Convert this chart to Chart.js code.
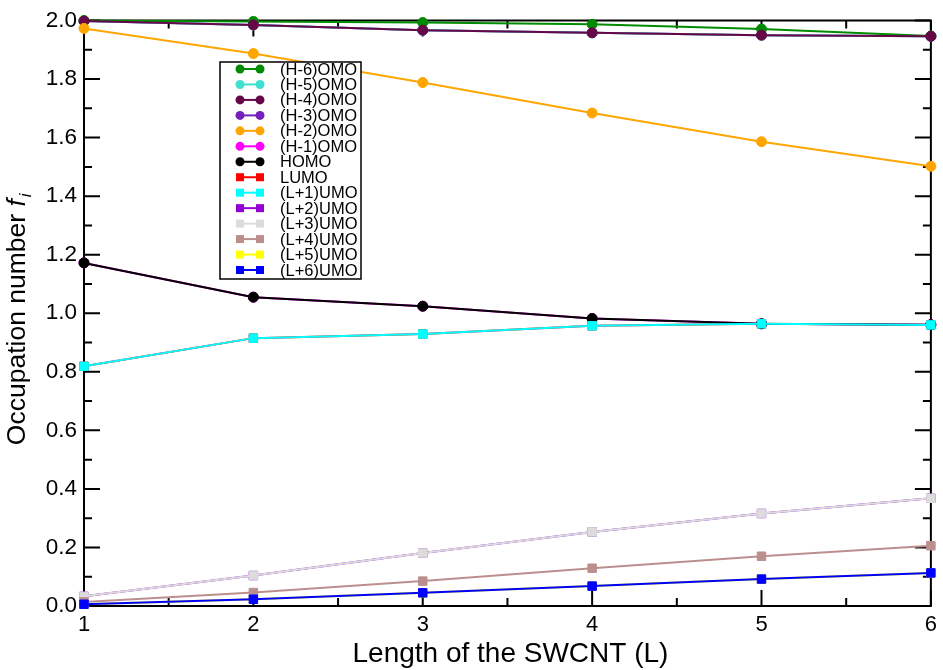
<!DOCTYPE html>
<html>
<head>
<meta charset="utf-8">
<script src="https://cdn.jsdelivr.net/npm/chart.js@4.4.1/dist/chart.umd.min.js"></script>
<style>
    html, body { margin: 0; padding: 0; background: #fff; }
    #occupation-chart { display: block; }
</style>
</head>
<body>
<canvas id="occupation-chart" width="943" height="670"></canvas>
<script>
// chain length L (x axis)
const lengths = [1, 2, 3, 4, 5, 6];

// occupation numbers
const h6 = [2.000, 1.997, 1.993, 1.987, 1.971, 1.947];
const h5 = [1.998, 1.985, 1.967, 1.958, 1.950, 1.946];
const h4 = [1.998, 1.985, 1.967, 1.958, 1.950, 1.946];
const h3 = [1.998, 1.985, 1.967, 1.958, 1.950, 1.946];
const h2 = [1.973, 1.887, 1.788, 1.684, 1.586, 1.502];
const h1 = [1.172, 1.055, 1.024, 0.982, 0.964, 0.961];
const homo = [1.172, 1.055, 1.024, 0.982, 0.964, 0.961];
const lumo = [0.819, 0.915, 0.929, 0.957, 0.964, 0.960];
const l1 = [0.819, 0.915, 0.929, 0.957, 0.964, 0.960];
const l2 = [0.033, 0.104, 0.181, 0.253, 0.316, 0.368];
const l3 = [0.033, 0.104, 0.181, 0.253, 0.316, 0.368];
const l4 = [0.014, 0.046, 0.085, 0.129, 0.170, 0.206];
const l5 = [0.006, 0.023, 0.045, 0.068, 0.092, 0.113];
const l6 = [0.006, 0.023, 0.045, 0.068, 0.092, 0.113];

const seriesNames = ['(H-6)OMO', '(H-5)OMO', '(H-4)OMO', '(H-3)OMO', '(H-2)OMO', '(H-1)OMO', 'HOMO',
    'LUMO', '(L+1)UMO', '(L+2)UMO', '(L+3)UMO', '(L+4)UMO', '(L+5)UMO', '(L+6)UMO'];
const seriesValues = [h6, h5, h4, h3, h2, h1, homo, lumo, l1, l2, l3, l4, l5, l6];
const seriesColors = ['#008b00', '#40e0d0', '#670748', '#7221bc', '#ffa500', '#ff00ff', '#000000',
    '#ff0000', '#00ffff', '#9400d3', '#dcdcdc', '#bc8f8f', '#ffff00', '#0000ff'];
// sets that sit underneath another one in the original picture
const coveredSets = ['(H-5)OMO', '(H-3)OMO', '(H-1)OMO', 'LUMO', '(L+2)UMO', '(L+5)UMO'];

const yTicks = [0, 0.2, 0.4, 0.6, 0.8, 1.0, 1.2, 1.4, 1.6, 1.8, 2.0];
const xTicks = [1, 2, 3, 4, 5, 6];

const FONT = '"Liberation Sans", Arial, Helvetica, sans-serif';

const datasets = seriesNames.map((name, i) => {
    const isCircle = name.indexOf('OMO') !== -1;
    return {
        label: name,
        data: lengths.map((x, k) => ({x: x, y: seriesValues[i][k]})),
        borderColor: seriesColors[i],
        backgroundColor: seriesColors[i],
        pointBackgroundColor: seriesColors[i],
        pointBorderColor: seriesColors[i],
        pointBorderWidth: 1,
        pointStyle: isCircle ? 'circle' : 'rect',
        pointRadius: isCircle ? 5 : 6,
        borderWidth: 2,
        clip: false,
        // higher order is drawn first; covered sets go to the bottom
        order: coveredSets.includes(name) ? 100 : seriesNames.length - i,
    }
})

// axis frame + inward ticks on all four sides
const frameTicks = {
    id: 'frameTicks',
    beforeDatasetsDraw(chart) {
        const ctx = chart.ctx;
        const {left, right, top, bottom} = chart.chartArea;
        const xs = chart.scales.x;
        const ys = chart.scales.y;
        ctx.save();
        ctx.strokeStyle = '#000';
        ctx.lineWidth = 2;
        ctx.beginPath();
        for (let k = 0; k <= 10; k++) {
            const x = xs.getPixelForValue(1 + k * 0.5);
            const len = k % 2 === 0 ? 16 : 8;
            ctx.moveTo(x, bottom); ctx.lineTo(x, bottom - len);
            ctx.moveTo(x, top); ctx.lineTo(x, top + len);
        }
        for (let k = 0; k <= 20; k++) {
            const y = ys.getPixelForValue(k * 0.1);
            const len = k % 2 === 0 ? 16 : 8;
            ctx.moveTo(left, y); ctx.lineTo(left + len, y);
            ctx.moveTo(right, y); ctx.lineTo(right - len, y);
        }
        ctx.stroke();
        ctx.strokeRect(left, top, right - left, bottom - top);
        ctx.restore();
    },
    afterDraw(chart) {
        const ctx = chart.ctx;
        const {left, right, top, bottom} = chart.chartArea;
        ctx.save();
        ctx.fillStyle = '#000';
        ctx.font = '28px ' + FONT;
        ctx.textAlign = 'center';
        ctx.textBaseline = 'alphabetic';
        ctx.fillText('Length of the SWCNT (L)', (left + right) / 2 + 3, 662);

        // y title with italic f and subscript i
        const main = 'Occupation number ';
        ctx.translate(25, (top + bottom) / 2 + 6);
        ctx.rotate(-Math.PI / 2);
        ctx.textAlign = 'left';
        ctx.font = '26.5px ' + FONT;
        const w1 = ctx.measureText(main).width;
        ctx.font = 'italic 26.5px ' + FONT;
        const w2 = ctx.measureText('f').width;
        ctx.font = 'italic 17px ' + FONT;
        const w3 = ctx.measureText('i').width;
        let x0 = -(w1 + w2 + w3 + 2) / 2;
        ctx.font = '26.5px ' + FONT;
        ctx.fillText(main, x0, 0);
        ctx.font = 'italic 26.5px ' + FONT;
        ctx.fillText('f', x0 + w1, 0);
        ctx.font = 'italic 17px ' + FONT;
        ctx.fillText('i', x0 + w1 + w2 + 2, 6);
        ctx.restore();
    }
}

// boxed legend inside the plot
const boxLegend = {
    id: 'boxLegend',
    afterDatasetsDraw(chart) {
        const ctx = chart.ctx;
        const bx = 220, by = 62, bw = 141, bh = 217;
        ctx.save();
        ctx.fillStyle = '#fff';
        ctx.fillRect(bx, by, bw, bh);
        ctx.strokeStyle = '#000';
        ctx.lineWidth = 1.5;
        ctx.strokeRect(bx, by, bw, bh);
        const step = (270 - 69) / 13;
        ctx.font = '16.5px ' + FONT;
        ctx.textBaseline = 'middle';
        seriesNames.forEach((name, i) => {
            const y = 69 + i * step;
            const color = seriesColors[i];
            ctx.strokeStyle = color;
            ctx.fillStyle = color;
            ctx.lineWidth = 2;
            ctx.beginPath();
            ctx.moveTo(240, y); ctx.lineTo(260, y);
            ctx.stroke();
            [240, 260].forEach(px => {
                if (name.indexOf('OMO') !== -1) {
                    ctx.beginPath();
                    ctx.arc(px, y, 4.5, 0, Math.PI * 2);
                    ctx.fill();
                } else {
                    ctx.fillRect(px - 4, y - 4, 8, 8);
                }
            })
            ctx.fillStyle = '#000';
            ctx.fillText(name, 280, y + 1);
        })
        ctx.restore();
    }
}

const chart = new Chart(document.getElementById('occupation-chart'), {
    type: 'line',
    data: {datasets: datasets},
    plugins: [frameTicks, boxLegend],
    options: {
        responsive: false,
        animation: false,
        layout: {padding: {top: 11, right: 9, left: 0, bottom: 0}},
        plugins: {
            legend: {display: false},
            tooltip: {enabled: false},
        },
        scales: {
            x: {
                type: 'linear',
                min: 1,
                max: 6,
                afterBuildTicks: s => { s.ticks = xTicks.map(v => ({value: v})) },
                ticks: {
                    color: '#000',
                    font: {family: FONT, size: 22},
                    padding: 6,
                    maxRotation: 0,
                    callback: v => String(v),
                },
                grid: {display: false, drawTicks: false},
                border: {display: false},
                afterFit: s => { s.height = 64 },
            },
            y: {
                min: 0,
                max: 2,
                afterBuildTicks: s => { s.ticks = yTicks.map(v => ({value: v})) },
                ticks: {
                    color: '#000',
                    font: {family: FONT, size: 22.5},
                    padding: 7,
                    callback: v => Number(v).toFixed(1),
                },
                grid: {display: false, drawTicks: false},
                border: {display: false},
                afterFit: s => { s.width = 84 },
            },
        },
    },
})
</script>
</body>
</html>
